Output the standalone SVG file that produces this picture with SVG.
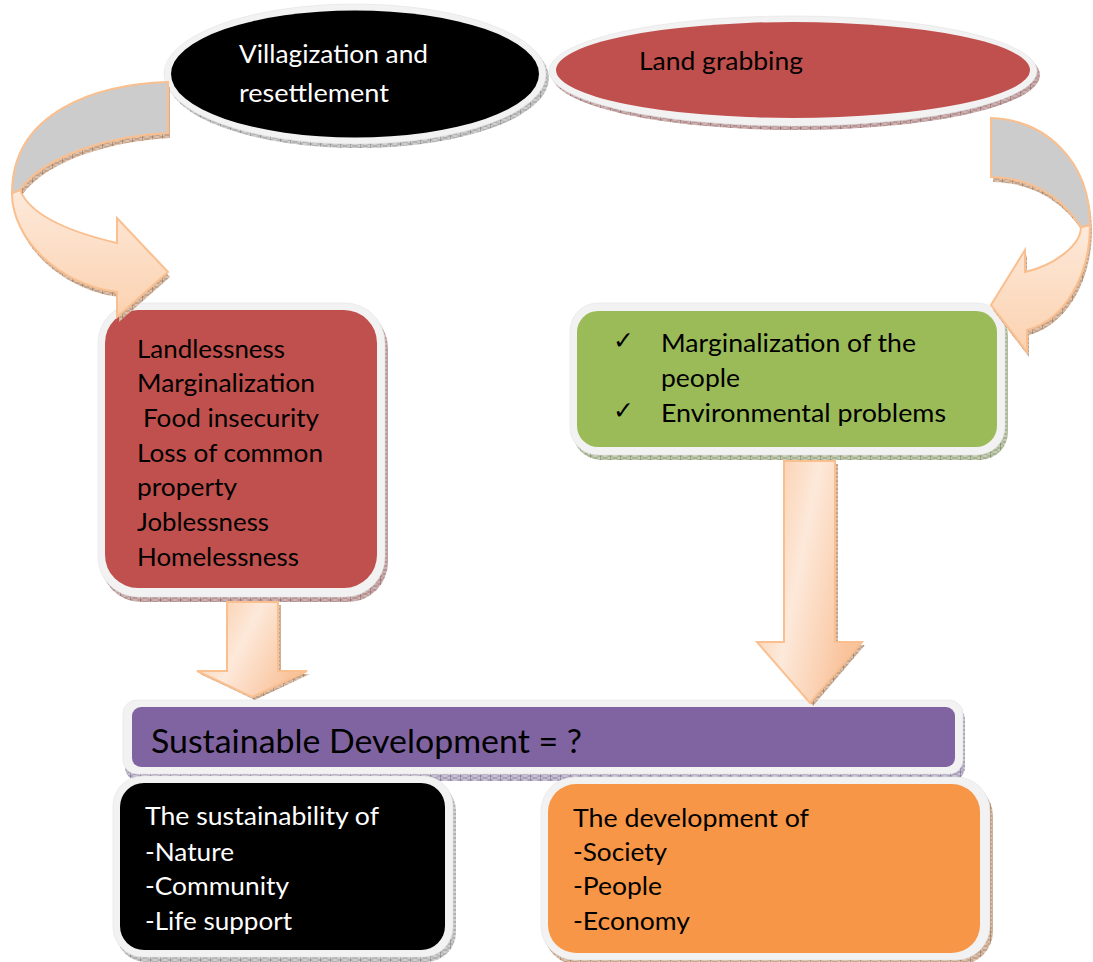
<svg xmlns="http://www.w3.org/2000/svg" width="1093" height="962" viewBox="0 0 1093 962">
  <defs>
    <style>
      .t { font-family: Lato, "Liberation Sans", "DejaVu Sans", sans-serif; font-size: 25px; fill: #000; }
      .w { fill: #fff; }
      .big { font-size: 32px; }
      .chk { font-family: "DejaVu Sans", sans-serif; font-size: 25px; fill: #000; }
      .frame { fill: #f2f2f2; stroke: #e2e2e2; stroke-width: 0.6; }
      .arrow { stroke: #fabf8f; stroke-width: 2; stroke-linejoin: miter; }
    </style>
    <!-- hatched drop-shadow textures, one tint per fill colour -->
    <pattern id="hatch-red" patternUnits="userSpaceOnUse" width="10" height="4">
      <rect width="10" height="4" fill="#cdb3b3"/>
      <path d="M0,0L10,4M0,4L10,0" stroke="#9b6a6a" stroke-width="0.5"/>
      <path d="M0,0V4" stroke="#7d4646" stroke-width="0.9"/>
    </pattern>
    <pattern id="hatch-grey" patternUnits="userSpaceOnUse" width="10" height="4">
      <rect width="10" height="4" fill="#cfcfcf"/>
      <path d="M0,0L10,4M0,4L10,0" stroke="#8a8a8a" stroke-width="0.5"/>
      <path d="M0,0V4" stroke="#666" stroke-width="0.9"/>
    </pattern>
    <pattern id="hatch-green" patternUnits="userSpaceOnUse" width="10" height="4">
      <rect width="10" height="4" fill="#c6cfb6"/>
      <path d="M0,0L10,4M0,4L10,0" stroke="#7d8c62" stroke-width="0.5"/>
      <path d="M0,0V4" stroke="#5e6b48" stroke-width="0.9"/>
    </pattern>
    <pattern id="hatch-purple" patternUnits="userSpaceOnUse" width="10" height="4">
      <rect width="10" height="4" fill="#c9c2d4"/>
      <path d="M0,0L10,4M0,4L10,0" stroke="#7f7395" stroke-width="0.5"/>
      <path d="M0,0V4" stroke="#5f547a" stroke-width="0.9"/>
    </pattern>
    <pattern id="hatch-orange" patternUnits="userSpaceOnUse" width="10" height="4">
      <rect width="10" height="4" fill="#dcc2ae"/>
      <path d="M0,0L10,4M0,4L10,0" stroke="#a37b5c" stroke-width="0.5"/>
      <path d="M0,0V4" stroke="#85593a" stroke-width="0.9"/>
    </pattern>
    <linearGradient id="peach-down" x1="0" y1="0" x2="1" y2="0.45">
      <stop offset="0" stop-color="#f9c49a"/>
      <stop offset="0.5" stop-color="#fde9da"/>
      <stop offset="1" stop-color="#f9c39c"/>
    </linearGradient>
    <linearGradient id="peach-left" gradientUnits="userSpaceOnUse" x1="0" y1="190" x2="0" y2="317">
      <stop offset="0" stop-color="#fde9da"/>
      <stop offset="1" stop-color="#fbd2b0"/>
    </linearGradient>
    <linearGradient id="peach-right" gradientUnits="userSpaceOnUse" x1="0" y1="225" x2="0" y2="352">
      <stop offset="0" stop-color="#fde9da"/>
      <stop offset="1" stop-color="#fbd2b0"/>
    </linearGradient>
  </defs>

  <rect width="1093" height="962" fill="#fff"/>

  <!-- Top causes -->
  <g id="villagization">
    <ellipse cx="358" cy="78" rx="191" ry="70" fill="url(#hatch-grey)"/>
    <ellipse class="frame" cx="355" cy="74" rx="191" ry="70"/>
    <ellipse cx="355" cy="74" rx="184" ry="63.5" fill="#000"/>
    <text class="t w" x="239" y="63" textLength="189" lengthAdjust="spacingAndGlyphs">Villagization and</text>
    <text class="t w" x="239" y="102" textLength="150" lengthAdjust="spacingAndGlyphs">resettlement</text>
  </g>

  <g id="land-grabbing">
    <ellipse cx="796" cy="75" rx="244" ry="55" fill="url(#hatch-red)"/>
    <ellipse class="frame" cx="793" cy="71" rx="244" ry="55"/>
    <ellipse cx="793" cy="70" rx="237" ry="48" fill="#c0504d"/>
    <text class="t" x="639" y="70" textLength="164" lengthAdjust="spacingAndGlyphs">Land grabbing</text>
  </g>

  <!-- Consequences -->
  <g id="impacts-villagization">
    <rect x="101" y="308" width="287" height="294" rx="40" fill="url(#hatch-red)"/>
    <rect class="frame" x="98" y="303" width="287" height="294" rx="40"/>
    <rect x="105" y="310" width="272" height="278" rx="33" fill="#c0504d"/>
    <text class="t" x="137" y="358" textLength="148" lengthAdjust="spacingAndGlyphs">Landlessness</text>
    <text class="t" x="137" y="392" textLength="178" lengthAdjust="spacingAndGlyphs">Marginalization</text>
    <text class="t" x="143" y="427" textLength="176" lengthAdjust="spacingAndGlyphs">Food insecurity</text>
    <text class="t" x="137" y="462" textLength="186" lengthAdjust="spacingAndGlyphs">Loss of common</text>
    <text class="t" x="137" y="496" textLength="100" lengthAdjust="spacingAndGlyphs">property</text>
    <text class="t" x="137" y="531" textLength="132" lengthAdjust="spacingAndGlyphs">Joblessness</text>
    <text class="t" x="137" y="566" textLength="162" lengthAdjust="spacingAndGlyphs">Homelessness</text>
  </g>

  <g id="impacts-land-grabbing">
    <rect x="573" y="308" width="435" height="152" rx="28" fill="url(#hatch-green)"/>
    <rect class="frame" x="570" y="303" width="435" height="152" rx="28"/>
    <rect x="577" y="311" width="420" height="136" rx="21" fill="#9bbb59"/>
    <text class="chk" x="613" y="349">✓</text>
    <text class="t" x="661" y="352" textLength="255" lengthAdjust="spacingAndGlyphs">Marginalization of the</text>
    <text class="t" x="661" y="387" textLength="79" lengthAdjust="spacingAndGlyphs">people</text>
    <text class="chk" x="613" y="419">✓</text>
    <text class="t" x="661" y="422" textLength="285" lengthAdjust="spacingAndGlyphs">Environmental problems</text>
  </g>

  <!-- Outcome -->
  <g id="sustainable-development">
    <rect x="125" y="706" width="840" height="75" rx="14" fill="url(#hatch-purple)"/>
    <rect class="frame" x="123" y="700" width="840" height="74" rx="14"/>
    <rect x="132" y="707" width="823" height="60" rx="9" fill="#8064a2"/>
    <text class="t big" x="151" y="753" textLength="431" lengthAdjust="spacingAndGlyphs">Sustainable Development = ?</text>
  </g>

  <g id="sustainability">
    <rect x="116" y="781" width="340" height="181" rx="30" fill="url(#hatch-grey)"/>
    <rect class="frame" x="113" y="776" width="340" height="181" rx="30"/>
    <rect x="120" y="783" width="325" height="167" rx="24" fill="#000"/>
    <text class="t w" x="145" y="825" textLength="234" lengthAdjust="spacingAndGlyphs">The sustainability of</text>
    <text class="t w" x="145" y="861" textLength="89" lengthAdjust="spacingAndGlyphs">-Nature</text>
    <text class="t w" x="145" y="895" textLength="144" lengthAdjust="spacingAndGlyphs">-Community</text>
    <text class="t w" x="145" y="930" textLength="147" lengthAdjust="spacingAndGlyphs">-Life support</text>
  </g>

  <g id="development">
    <rect x="544" y="782" width="449" height="183" rx="34" fill="url(#hatch-orange)"/>
    <rect class="frame" x="541" y="777" width="449" height="183" rx="34"/>
    <rect x="548" y="784" width="432" height="169" rx="28" fill="#f79646"/>
    <text class="t" x="573" y="827" textLength="236" lengthAdjust="spacingAndGlyphs">The development of</text>
    <text class="t" x="573" y="861" textLength="94" lengthAdjust="spacingAndGlyphs">-Society</text>
    <text class="t" x="573" y="895" textLength="89" lengthAdjust="spacingAndGlyphs">-People</text>
    <text class="t" x="573" y="930" textLength="117" lengthAdjust="spacingAndGlyphs">-Economy</text>
  </g>

  <!-- Connectors -->
  <g id="connectors">
    <!-- curved arrow: villagization to its consequences -->
    <g id="arrow-left">
      <path d="M168,82 C100,84 12,110 12,193 C12,240 60,285 117,292 L117,317 L168,272 L117,218 L117,243 C70,232 30,215 20,190 C45,155 110,136 168,133 Z" transform="translate(2,5)" fill="url(#hatch-orange)"/>
      <path class="arrow" d="M12,193 C12,240 60,285 117,292 L117,317 L168,272 L117,218 L117,243 C70,232 30,215 20,190 Z" fill="url(#peach-left)"/>
      <path class="arrow" d="M168,82 C100,84 12,110 12,193 L20,190 C45,155 110,136 168,133 Z" fill="#cccccc"/>
    </g>
    <!-- curved arrow: land grabbing to its consequences -->
    <g id="arrow-right">
      <path d="M991,118 C1045,120 1090,160 1090,225 C1090,275 1065,320 1027,330 L1027,352 L991,305 L1025,250 L1025,272 C1055,265 1081,245 1081,227 C1060,195 1030,178 991,177 Z" transform="translate(2,5)" fill="url(#hatch-orange)"/>
      <path class="arrow" d="M1090,225 C1090,275 1065,320 1027,330 L1027,352 L991,305 L1025,250 L1025,272 C1055,265 1081,245 1081,227 Z" fill="url(#peach-right)"/>
      <path class="arrow" d="M991,118 C1045,120 1090,160 1090,225 L1081,227 C1060,195 1030,178 991,177 Z" fill="#cccccc"/>
    </g>
    <!-- straight arrows into the outcome bar -->
    <g id="arrow-down-left">
      <path d="M227,602 H278 V671 H307 L252,697 L197,671 H227 Z" transform="translate(3,3)" fill="url(#hatch-orange)"/>
      <path class="arrow" d="M227,602 H278 V671 H307 L252,697 L197,671 H227 Z" fill="url(#peach-down)"/>
    </g>
    <g id="arrow-down-right">
      <path d="M784,461 H835 V642 H862 L810,703 L757,642 H784 Z" transform="translate(3,3)" fill="url(#hatch-orange)"/>
      <path class="arrow" d="M784,461 H835 V642 H862 L810,703 L757,642 H784 Z" fill="url(#peach-down)"/>
    </g>
  </g>
</svg>
